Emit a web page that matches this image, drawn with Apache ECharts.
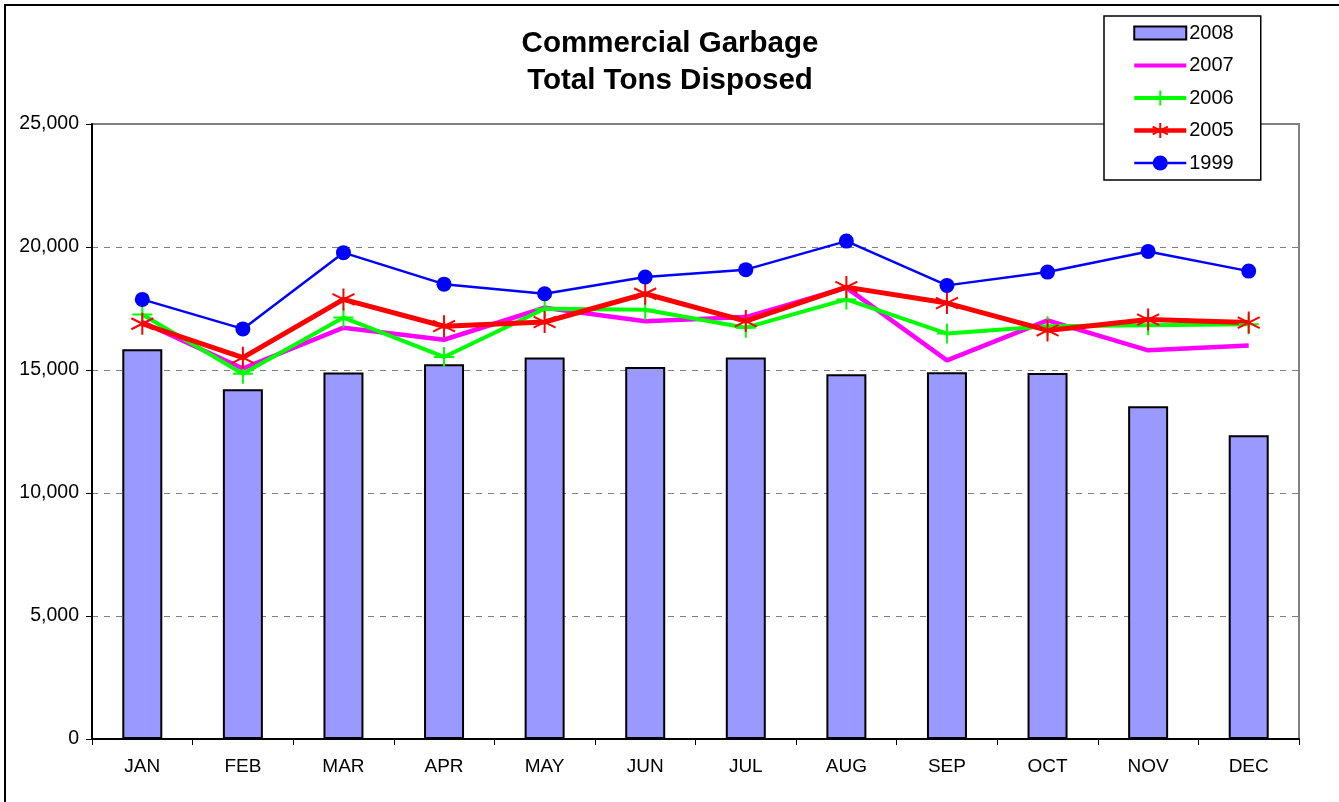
<!DOCTYPE html>
<html>
<head>
<meta charset="utf-8">
<script src="https://cdn.jsdelivr.net/npm/echarts@6/dist/echarts.min.js"></script>
<style>
    html, body { margin: 0; padding: 0; background: #fff; }
    #chart { width: 1339px; height: 802px; }
</style>
</head>
<body>
<div id="chart"></div>
<script>
// chart data
var months = ['JAN', 'FEB', 'MAR', 'APR', 'MAY', 'JUN', 'JUL', 'AUG', 'SEP', 'OCT', 'NOV', 'DEC'];
var tons2008 = [15840, 14220, 14900, 15230, 15510, 15120, 15510, 14830, 14910, 14880, 13530, 12350];
var tons2007 = [16950, 15060, 16720, 16230, 17530, 16980, 17150, 18350, 15390, 17020, 15800, 16000];
var tons2006 = [17260, 14850, 17130, 15530, 17490, 17450, 16720, 17870, 16480, 16780, 16820, 16860];
var tons2005 = [16880, 15500, 17870, 16780, 16950, 18100, 16990, 18370, 17720, 16610, 17050, 16930];
var tons1999 = [17870, 16670, 19770, 18490, 18100, 18780, 19080, 20240, 18440, 18980, 19820, 19020];
var yTicks = { min: 0, max: 25000, step: 5000 };

var FONT = '"Liberation Sans", Arial, sans-serif';
var plusPath = 'path://M0,-10L0,10M-10,0L10,0';
var starPath = 'path://M0,-10L0,10M-8.66,-5L8.66,5M-8.66,5L8.66,-5';
var barIcon = 'path://M0,0L52,0L52,13L0,13Z';

var chart = echarts.init(document.getElementById('chart'));
chart.setOption({
    animation: false,
    backgroundColor: '#fff',
    title: {
        text: 'Commercial Garbage\nTotal Tons Disposed',
        left: 665,
        textAlign: 'center',
        top: 20,
        textStyle: {
            fontFamily: FONT,
            fontSize: 29.5,
            fontWeight: 'bold',
            color: '#000',
            lineHeight: 37
        }
    },
    legend: {
        orient: 'vertical',
        left: 1104,
        top: 16,
        padding: [7, 27, 7, 28],
        itemGap: 12.5,
        itemWidth: 52,
        itemHeight: 19,
        symbolKeepAspect: true,
        borderColor: '#000',
        borderWidth: 1.5,
        backgroundColor: '#fff',
        textStyle: { fontFamily: FONT, fontSize: 20, color: '#000', padding: [0, 0, 0, -2] },
        data: [
            { name: '2008', icon: barIcon, itemStyle: { color: '#9999ff', borderColor: '#000', borderWidth: 2 } },
            { name: '2007', itemStyle: { opacity: 0 }, lineStyle: { width: 4 } },
            { name: '2006', lineStyle: { width: 4 } },
            { name: '2005', lineStyle: { width: 4.5 } },
            { name: '1999', lineStyle: { width: 2.5 } }
        ]
    },
    grid: {
        left: 92,
        right: 40,
        top: 124,
        bottom: 63,
        show: true,
        borderColor: '#808080',
        borderWidth: 2
    },
    xAxis: {
        type: 'category',
        data: months,
        boundaryGap: true,
        axisLine: { lineStyle: { color: '#000', width: 2 } },
        axisTick: { show: true, length: 6, lineStyle: { color: '#000', width: 1 } },
        axisLabel: { fontFamily: FONT, fontSize: 19, color: '#000', margin: 18 }
    },
    yAxis: {
        type: 'value',
        min: yTicks.min,
        max: yTicks.max,
        interval: yTicks.step,
        axisLine: { show: true, lineStyle: { color: '#000', width: 2 } },
        axisTick: { show: true, length: 6, lineStyle: { color: '#000', width: 1 } },
        axisLabel: {
            fontFamily: FONT, fontSize: 19.5, color: '#000', margin: 13,
            formatter: function (v) { return v.toLocaleString('en-US'); }
        },
        splitLine: { lineStyle: { color: '#808080', type: [6, 6], width: 1 } }
    },
    series: [
        {
            name: '2008',
            type: 'bar',
            data: tons2008,
            barWidth: 40,
            itemStyle: { color: '#9999ff', borderColor: '#000', borderWidth: 2 }
        },
        {
            name: '2007',
            type: 'line',
            data: tons2007,
            symbol: 'none',
            lineStyle: { color: '#ff00ff', width: 4.5 },
            itemStyle: { color: '#ff00ff' }
        },
        {
            name: '2006',
            type: 'line',
            data: tons2006,
            symbol: plusPath,
            symbolSize: 20,
            lineStyle: { color: '#00ff00', width: 4 },
            itemStyle: { color: '#00ff00', borderColor: '#00ff00', borderWidth: 2 }
        },
        {
            name: '2005',
            type: 'line',
            data: tons2005,
            symbol: starPath,
            symbolSize: 22,
            lineStyle: { color: '#ff0000', width: 5 },
            itemStyle: { color: '#ff0000', borderColor: '#ff0000', borderWidth: 2 }
        },
        {
            name: '1999',
            type: 'line',
            data: tons1999,
            symbol: 'circle',
            symbolSize: 15,
            lineStyle: { color: '#0000ff', width: 2.5 },
            itemStyle: { color: '#0000ff' }
        }
    ],
    graphic: [
        {
            type: 'rect',
            silent: true,
            z: -10,
            shape: { x: 5, y: 5, width: 1345, height: 810 },
            style: { fill: 'none', stroke: '#000', lineWidth: 2 }
        }
    ]
});
</script>
</body>
</html>
